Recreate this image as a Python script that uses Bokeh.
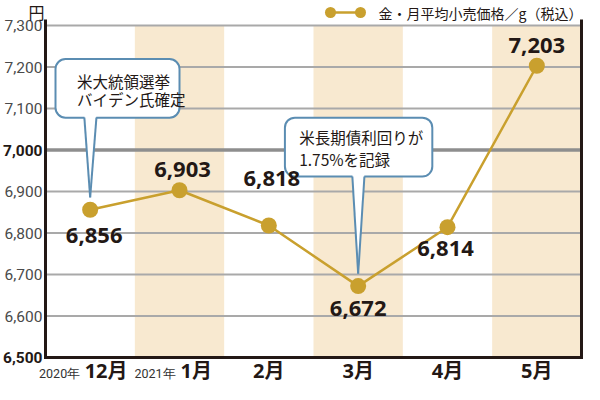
from bokeh.plotting import figure
from bokeh.models import Range1d, Label
from bokeh.embed import file_html
from bokeh.resources import INLINE

# ---------------- data ----------------
months = ["12月", "1月", "2月", "3月", "4月", "5月"]
years = ["2020年", "2021年", "", "", "", ""]
prices = [6856, 6903, 6818, 6672, 6814, 7203]
price_labels = ["6,856", "6,903", "6,818", "6,672", "6,814", "7,203"]
y_ticks = [6500, 6600, 6700, 6800, 6900, 7000, 7100, 7200, 7300]
y_tick_labels = ["6,500", "6,600", "6,700", "6,800", "6,900", "7,000", "7,100", "7,200", "7,300"]
y_bold_ticks = [6500, 7000]
shaded_cols = [1, 3, 5]
legend_text = "金・月平均小売価格／g（税込）"
unit_text = "円"
callout_index = [0, 3]
callout_lines = [["米大統領選挙", "バイデン氏確定"], ["米長期債利回りが", "1.75%を記録"]]

# ---------------- styles / layout ----------------
GOLD = "#c9a02e"
CREAM = "#f8e9d0"
INK = "#231815"
GRID = "#a9a9a9"
GRID_BOLD = "#8e8e8e"
BLUE = "#5b8db2"
NARROW = "'Liberation Sans Narrow', 'Roboto', sans-serif"
BOLDF = "'Open Sans', 'Noto Sans CJK JP', sans-serif"
JP = "'Noto Sans CJK JP', sans-serif"

W, H = 584, 384
n = len(months)
y_lo, y_hi = y_ticks[0], y_ticks[-1]
X0PX, XNPX = 45, 581          # pixel position of x=0 and x=n
YLOPX, YHIPX = 357, 25        # pixel position of y_lo and y_hi
sx = (XNPX - X0PX) / n
sy = (YLOPX - YHIPX) / (y_hi - y_lo)


def dx(px):
    return (px - X0PX) / sx


def dy(py):
    return y_lo + (YLOPX - py) / sy


p = figure(width=W, height=H, x_range=Range1d(dx(0), dx(W)), y_range=Range1d(dy(H), dy(0)),
           output_backend="svg", toolbar_location=None,
           x_axis_location=None, y_axis_location=None,
           min_border_left=0, min_border_right=0, min_border_top=0, min_border_bottom=0)
p.outline_line_color = None
p.background_fill_color = "white"
p.border_fill_color = "white"
for g in p.grid:
    g.visible = False

xs = [i + 0.5 for i in range(n)]

# shaded columns
p.quad(left=shaded_cols, right=[c + 1 for c in shaded_cols], bottom=y_lo, top=y_hi,
       fill_color=CREAM, line_color=None)

# gridlines
norm = [t for t in y_ticks[1:] if t not in y_bold_ticks]
p.segment(x0=0, x1=n, y0=norm, y1=norm, line_color=GRID, line_width=2)
bold_grid = [t for t in y_bold_ticks if t != y_lo]
p.segment(x0=0, x1=n, y0=bold_grid, y1=bold_grid, line_color=GRID_BOLD, line_width=3.5)

# axes frame lines
axis_top = dy(YHIPX - 6)
p.segment(x0=[0, n], x1=[0, n], y0=[y_lo, y_lo], y1=[axis_top, axis_top], line_color=INK, line_width=3)
p.segment(x0=[0], x1=[n], y0=[y_lo], y1=[y_lo], line_color=INK, line_width=3, line_cap="square")

# data series
p.line(xs, prices, line_color=GOLD, line_width=2.5)
p.scatter(xs, prices, size=16, fill_color=GOLD, line_color=None)

# data labels
lab_dx = [4, 3, 3, 0, -2, 0]
lab_dy = [-26, 21, 47, -22, -21, 20]
for x, v, t, ox, oy in zip(xs, prices, price_labels, lab_dx, lab_dy):
    p.add_layout(Label(x=x, y=v, text=t, x_offset=ox, y_offset=oy, text_font=BOLDF,
                       text_font_size="22px", text_font_style="bold", text_color=INK,
                       text_align="center", text_baseline="middle"))

# callouts: (left, right, top, bottom, text_left, line1_y, line2_y)
box_geom = [(-0.388, 1.0, 7219, 7078, -0.148, 7167, 7123),
            (-0.82, 0.83, 7078, 6936, -0.66, 7031, 6979)]
for idx, lines, (l, r, t, b, tx, ty1, ty2) in zip(callout_index, callout_lines, box_geom):
    cx = xs[idx]
    tip = prices[idx] + 30
    p.quad(left=[cx + l], right=[cx + r], top=[t], bottom=[b], border_radius=10,
           fill_color="white", line_color=BLUE, line_width=2)
    p.patch([cx - 0.065, cx, cx + 0.07], [b + 8, tip, b + 8], fill_color="white", line_color=None)
    p.multi_line([[cx - 0.065, cx], [cx + 0.07, cx]], [[b, tip], [b, tip]], line_color=BLUE, line_width=2)
    for ln, ty in zip(lines, [ty1, ty2]):
        p.add_layout(Label(x=cx + tx, y=ty, text=ln, text_font=JP, text_font_size="15.5px",
                           text_color=INK, text_align="left", text_baseline="middle"))

# y tick labels
for tv, tl in zip(y_ticks, y_tick_labels):
    bold = tv in y_bold_ticks
    p.add_layout(Label(x=dx(42), y=tv, text=tl, text_font=NARROW, text_font_size="15.5px",
                       text_font_style="bold" if bold else "normal",
                       text_color=INK if bold else "#4a4a4a",
                       text_align="right", text_baseline="middle"))

# x labels
m_y = dy(370)
yr_y = dy(373)
m_off = [-5.5, 1, 0, 0, 0, 0]
y_off = [-10, -4, 0, 0, 0, 0]
for x, m, yr, mo, yo in zip(xs, months, years, m_off, y_off):
    if yr:
        p.add_layout(Label(x=x, y=m_y, x_offset=mo, text=m, text_font=BOLDF, text_font_size="20px",
                           text_font_style="bold", text_color=INK, text_align="left",
                           text_baseline="middle"))
        p.add_layout(Label(x=x, y=yr_y, x_offset=yo, text=yr, text_font=NARROW, text_font_size="12.5px",
                           text_color="#333333", text_align="right", text_baseline="middle"))
    else:
        p.add_layout(Label(x=x, y=m_y, text=m, text_font=BOLDF, text_font_size="20px",
                           text_font_style="bold", text_color=INK, text_align="center",
                           text_baseline="middle"))

# unit label
p.add_layout(Label(x=dx(36), y=dy(11), text=unit_text, text_font=JP, text_font_size="16px",
                   text_color=INK, text_align="center", text_baseline="middle"))

# legend
leg_y = dy(12)
p.segment(x0=[dx(330)], x1=[dx(360)], y0=[leg_y], y1=[leg_y], line_color=GOLD, line_width=2.5)
p.scatter([dx(330), dx(360)], [leg_y, leg_y], size=11, fill_color=GOLD, line_color=None)
p.add_layout(Label(x=dx(582), y=leg_y, text=legend_text, text_font=JP, text_font_size="14px",
                   text_color=INK, text_align="right", text_baseline="middle"))

open("out.html", "w").write(file_html(p, INLINE))
